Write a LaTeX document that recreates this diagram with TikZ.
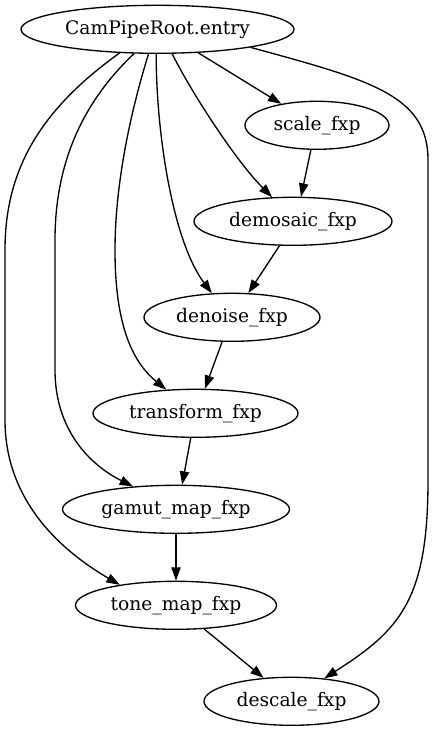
\documentclass[tikz,border=0pt]{standalone}
\usepackage{fontspec}
\setmainfont{DejaVu Serif}
\usetikzlibrary{arrows.meta,shapes.geometric}
\begin{document}
\begin{tikzpicture}[x=0.75pt,y=-0.75pt,
  task/.style={ellipse,draw,line width=1pt,minimum height=36pt,inner sep=0pt,
               font=\fontsize{14}{17}\selectfont},
  edge/.style={line width=1pt,-{Triangle[length=10pt,width=7pt]}},
]
\useasboundingbox (0,0) rectangle (437,731);

% pipeline stages
\node[task,minimum width=204.75pt] (root)      at (157.5,29.3)  {CamPipeRoot.entry};
\node[task,minimum width=108pt]    (scale)     at (317,125.3)   {scale\_fxp};
\node[task,minimum width=148.5pt]  (demosaic)  at (293,221.3)   {demosaic\_fxp};
\node[task,minimum width=132pt]    (denoise)   at (232,317.3)   {denoise\_fxp};
\node[task,minimum width=153.75pt] (transform) at (195.5,413.3) {transform\_fxp};
\node[task,minimum width=170.25pt] (gamut)     at (176,509.3)   {gamut\_map\_fxp};
\node[task,minimum width=150.75pt] (tone)      at (176,605.3)   {tone\_map\_fxp};
\node[task,minimum width=131.25pt] (descale)   at (291.5,701.3) {descale\_fxp};

% entry point fans out to every stage
\draw[edge] (root.330) -- (scale.149);
\draw[edge] (root.301) .. controls (190,90) and (235,160) .. (demosaic.131);
\draw[edge] (root.267) .. controls (156,130) and (172,240) .. (denoise.130);
\draw[edge] (root.250) .. controls (128,120) and (115,190) .. (115,250)
            .. controls (115,320) and (130,360) .. (transform.141);
\draw[edge] (root.226) .. controls (85,100) and (55,160) .. (55,240) -- (55,370)
            .. controls (55,430) and (90,465) .. (gamut.152);
\draw[edge] (root.212) .. controls (40,110) and (5,170) .. (5,250) -- (5,420)
            .. controls (5,500) and (60,550) .. (tone.160);
\draw[edge] (root.349) .. controls (370,80) and (428,95) .. (428,160) -- (428,480)
            .. controls (428,600) and (400,630) .. (descale.35);

% sequential chain
\draw[edge] (scale.256) -- (demosaic.72);
\draw[edge] (demosaic.241) -- (denoise.56);
\draw[edge] (denoise.248) -- (transform.69);
\draw[edge] (transform.259) -- (gamut.76);
\draw[edge] (gamut.south) -- (tone.north);
\draw[edge] (tone.320) -- (descale.140);
\end{tikzpicture}
\end{document}
